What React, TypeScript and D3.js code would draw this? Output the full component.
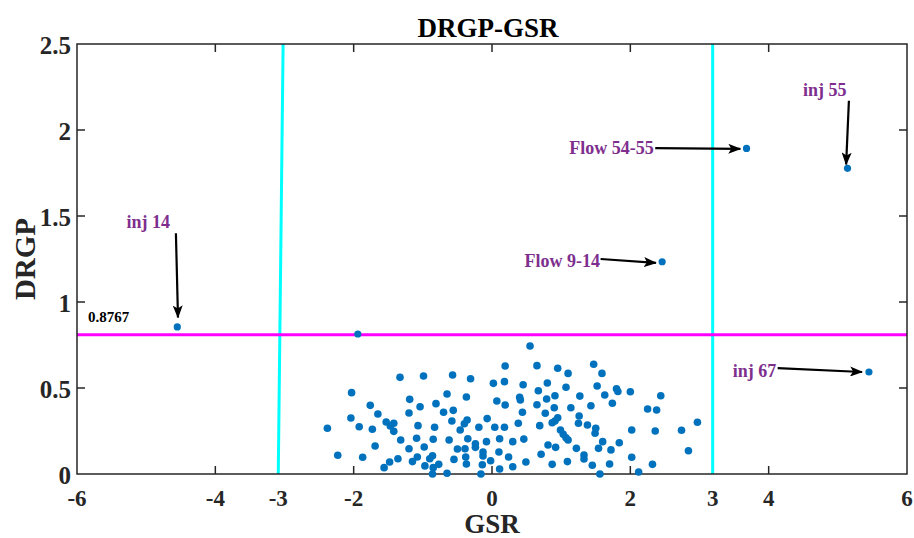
import React, { useRef, useEffect } from "react";
import * as d3 from "d3";

// GSR / DRGP cloud
const gsr = [
	-2.38, -2.23, -2.03, -2.04, -1.92, -1.87, -1.76, -1.73, -1.69, -1.65,
	-1.33, -0.99, -1.19, -0.81, -1.04, -1.20, -0.70, -1.53, -1.42, -1.47,
	-1.07, -0.83, -1.42, -1.32, -1.09, -0.85, -1.20, -0.98, -1.08, -1.36,
	-1.15, -1.48, -0.90, -0.86, -1.56, -0.97, -0.77, -0.85, -0.86,
	0.19, -0.57, -0.31, 0.02, 0.18, -0.65, -0.37, 0.07, 0.19, -0.56,
	-0.58, -0.36, -0.40, -0.46, -0.07, -0.19, 0.04, 0.18, -0.35, -0.62,
	-0.08, 0.11, -0.24, -0.50, -0.39, -0.24, -0.13, 0.10, -0.38, -0.55,
	-0.13, -0.02, 0.24, -0.37, -0.14, 0.11, -0.65, -0.16,
	0.55, 0.65, 0.95, 1.10, 0.45, 0.80, 1.07, 0.67, 0.91, 0.40,
	0.41, 0.79, 0.65, 0.90, 1.14, 0.44, 0.77, 0.95, 0.91, 0.87,
	0.38, 0.69, 0.99, 1.03, 1.07, 1.10, 0.46, 0.30, 0.81, 0.92,
	0.71, 0.49, 0.87, 1.09, 0.30,
	1.47, 1.59, 1.52, 1.80, 1.82, 2.00, 1.27, 1.63, 1.74, 1.43,
	1.26, 1.25, 1.38, 1.50, 1.49, 2.02, 1.60, 1.84, 1.22, 1.54,
	1.72, 1.33, 1.33, 2.02, 1.45, 1.70, 1.56, 2.12,
	2.44, 2.25, 2.38, 2.36, 2.74, 2.97, 2.84, 2.32,
];
const drgp = [
	0.266, 0.109, 0.473, 0.326, 0.275, 0.097, 0.399, 0.260, 0.163, 0.349,
	0.562, 0.570, 0.434, 0.409, 0.391, 0.355, 0.359, 0.302, 0.295, 0.279,
	0.281, 0.272, 0.248, 0.198, 0.208, 0.202, 0.147, 0.157, 0.099, 0.089,
	0.072, 0.070, 0.089, 0.106, 0.037, 0.047, 0.056, 0.037, 0.0,
	0.628, 0.576, 0.554, 0.527, 0.537, 0.465, 0.448, 0.424, 0.401, 0.370,
	0.308, 0.314, 0.292, 0.256, 0.322, 0.272, 0.272, 0.272, 0.205, 0.198,
	0.188, 0.205, 0.176, 0.145, 0.147, 0.155, 0.128, 0.128, 0.099, 0.085,
	0.105, 0.077, 0.099, 0.058, 0.054, 0.029, 0.004, 0.0,
	0.744, 0.630, 0.615, 0.585, 0.519, 0.529, 0.504, 0.484, 0.455, 0.446,
	0.430, 0.436, 0.403, 0.385, 0.385, 0.359, 0.353, 0.327, 0.308, 0.298,
	0.295, 0.281, 0.256, 0.231, 0.211, 0.198, 0.203, 0.188, 0.169, 0.155,
	0.115, 0.070, 0.056, 0.072, 0.042,
	0.638, 0.585, 0.512, 0.496, 0.480, 0.478, 0.453, 0.459, 0.411, 0.397,
	0.337, 0.295, 0.285, 0.266, 0.237, 0.256, 0.188, 0.182, 0.149, 0.149,
	0.140, 0.110, 0.087, 0.097, 0.051, 0.058, 0.0, 0.012,
	0.455, 0.378, 0.372, 0.250, 0.254, 0.301, 0.135, 0.056,
];

// isolated points
const outlierGsr = [-4.55, -1.94, 3.68, 5.14, 2.46, 5.45];
const outlierDrgp = [0.855, 0.814, 1.893, 1.777, 1.234, 0.593];

const xTicks = [-6, -4, -2, 0, 2, 4, 6];
const yTicks = [0, 0.5, 1, 1.5, 2, 2.5];
const drgpLimit = 0.81;
const gsrLimits = [
	{ label: "-3", bottom: -3.09, top: -3.02 },
	{ label: "3", bottom: 3.19, top: 3.19 },
];

const notes = [
	{ text: "inj 14", x: -4.97, y: 1.43, anchor: "middle", from: [-4.57, 1.40], to: [-4.54, 0.91] },
	{ text: "Flow 54-55", x: 2.34, y: 1.86, anchor: "end", from: [2.36, 1.895], to: [3.59, 1.89] },
	{ text: "inj 55", x: 4.81, y: 2.20, anchor: "middle", from: [5.16, 2.17], to: [5.12, 1.80] },
	{ text: "Flow 9-14", x: 1.56, y: 1.203, anchor: "end", from: [1.57, 1.25], to: [2.37, 1.227] },
	{ text: "inj 67", x: 4.11, y: 0.564, anchor: "end", from: [4.13, 0.616], to: [5.35, 0.593] },
];

const FONT = "'Liberation Serif', 'Times New Roman', serif";

const App = () => {
	const chartRef = useRef<SVGSVGElement>(null);

	useEffect(() => {
		document.body.style.margin = "0";
		const width = 914;
		const height = 538;
		const margin = { top: 44, right: 7, bottom: 64, left: 77 };

		const svg = d3.select(chartRef.current);
		svg.selectAll("*").remove();
		svg.attr("width", width).attr("height", height);

		const x = d3.scaleLinear().domain([-6, 6]).range([margin.left, width - margin.right]);
		const y = d3.scaleLinear().domain([0, 2.5]).range([height - margin.bottom, margin.top]);
		const x0 = x.range()[0], x1 = x.range()[1];
		const y0 = y.range()[0], y1 = y.range()[1];

		svg.append("defs").append("marker")
			.attr("id", "head")
			.attr("markerUnits", "userSpaceOnUse")
			.attr("markerWidth", 13)
			.attr("markerHeight", 10)
			.attr("refX", 12)
			.attr("refY", 5)
			.attr("orient", "auto")
			.append("path")
			.attr("d", "M0,0 L13,5 L0,10 L3,5 Z")
			.attr("fill", "#000");

		// cyan GSR limits
		svg.selectAll(".limit")
			.data(gsrLimits)
			.enter()
			.append("line")
			.attr("x1", d => x(d.bottom))
			.attr("y1", y0)
			.attr("x2", d => x(d.top))
			.attr("y2", y1)
			.attr("stroke", "#00ffff")
			.attr("stroke-width", 3);

		// magenta DRGP limit
		svg.append("line")
			.attr("x1", x0)
			.attr("x2", x1)
			.attr("y1", y(drgpLimit))
			.attr("y2", y(drgpLimit))
			.attr("stroke", "#ff00ff")
			.attr("stroke-width", 3);

		// box + inward ticks
		const axisColor = "#262626";
		svg.append("rect")
			.attr("x", x0).attr("y", y1)
			.attr("width", x1 - x0).attr("height", y0 - y1)
			.attr("fill", "none")
			.attr("stroke", axisColor)
			.attr("stroke-width", 1.5);

		const tickLen = 8;
		const innerX = xTicks.slice(1, -1);
		const innerY = yTicks.slice(1, -1);
		svg.selectAll(".xtb").data(innerX).enter().append("line")
			.attr("x1", d => x(d)).attr("x2", d => x(d))
			.attr("y1", y0).attr("y2", y0 - tickLen)
			.attr("stroke", axisColor).attr("stroke-width", 1.5);
		svg.selectAll(".xtt").data(innerX).enter().append("line")
			.attr("x1", d => x(d)).attr("x2", d => x(d))
			.attr("y1", y1).attr("y2", y1 + tickLen)
			.attr("stroke", axisColor).attr("stroke-width", 1.5);
		svg.selectAll(".ytl").data(innerY).enter().append("line")
			.attr("x1", x0).attr("x2", x0 + tickLen)
			.attr("y1", d => y(d)).attr("y2", d => y(d))
			.attr("stroke", axisColor).attr("stroke-width", 1.5);
		svg.selectAll(".ytr").data(innerY).enter().append("line")
			.attr("x1", x1).attr("x2", x1 - tickLen)
			.attr("y1", d => y(d)).attr("y2", d => y(d))
			.attr("stroke", axisColor).attr("stroke-width", 1.5);

		// tick labels
		const xLabels = xTicks.map(v => ({ v, label: String(v) }))
			.concat(gsrLimits.map(d => ({ v: d.bottom, label: d.label })));
		svg.append("g")
			.selectAll("text")
			.data(xLabels)
			.enter()
			.append("text")
			.attr("x", d => x(d.v))
			.attr("y", y0 + 32)
			.attr("text-anchor", "middle")
			.attr("font-family", FONT)
			.attr("font-weight", "bold")
			.attr("font-size", 23)
			.attr("fill", axisColor)
			.text(d => d.label);

		svg.append("g")
			.selectAll("text")
			.data(yTicks)
			.enter()
			.append("text")
			.attr("x", x0 - 6)
			.attr("y", d => y(d) + 10)
			.attr("text-anchor", "end")
			.attr("font-family", FONT)
			.attr("font-weight", "bold")
			.attr("font-size", 25)
			.attr("fill", axisColor)
			.text(d => String(d));

		// titles
		svg.append("text")
			.attr("x", (x0 + x1) / 2 - 4)
			.attr("y", 37)
			.attr("text-anchor", "middle")
			.attr("font-family", FONT)
			.attr("font-weight", "bold")
			.attr("font-size", 27)
			.attr("fill", "#000")
			.text("DRGP-GSR");

		svg.append("text")
			.attr("x", (x0 + x1) / 2)
			.attr("y", 533)
			.attr("text-anchor", "middle")
			.attr("font-family", FONT)
			.attr("font-weight", "bold")
			.attr("font-size", 27)
			.attr("fill", axisColor)
			.text("GSR");

		svg.append("text")
			.attr("transform", `translate(35, ${(y0 + y1) / 2}) rotate(-90)`)
			.attr("text-anchor", "middle")
			.attr("font-family", FONT)
			.attr("font-weight", "bold")
			.attr("font-size", 29)
			.attr("fill", axisColor)
			.text("DRGP");

		// points
		svg.append("g")
			.selectAll("circle")
			.data(d3.range(gsr.length))
			.enter()
			.append("circle")
			.attr("cx", i => x(gsr[i]))
			.attr("cy", i => y(drgp[i]))
			.attr("r", 3.8)
			.attr("fill", "#0072bd");

		svg.append("g")
			.selectAll("circle")
			.data(d3.range(outlierGsr.length))
			.enter()
			.append("circle")
			.attr("cx", i => x(outlierGsr[i]))
			.attr("cy", i => y(outlierDrgp[i]))
			.attr("r", 3.6)
			.attr("fill", "#0072bd");

		// annotations
		svg.append("g")
			.selectAll("line")
			.data(notes)
			.enter()
			.append("line")
			.attr("x1", d => x(d.from[0]))
			.attr("y1", d => y(d.from[1]))
			.attr("x2", d => x(d.to[0]))
			.attr("y2", d => y(d.to[1]))
			.attr("stroke", "#000")
			.attr("stroke-width", 2.2)
			.attr("marker-end", "url(#head)");

		svg.append("g")
			.selectAll("text")
			.data(notes)
			.enter()
			.append("text")
			.attr("x", d => x(d.x))
			.attr("y", d => y(d.y))
			.attr("text-anchor", d => d.anchor)
			.attr("font-family", FONT)
			.attr("font-weight", "bold")
			.attr("font-size", 18)
			.attr("fill", "#7e2f8e")
			.text(d => d.text);

		svg.append("text")
			.attr("x", x(-5.84))
			.attr("y", y(0.884))
			.attr("font-family", FONT)
			.attr("font-weight", "bold")
			.attr("font-size", 15)
			.attr("fill", "#000")
			.text("0.8767");
	}, []);

	return <svg ref={chartRef} style={{ display: "block" }}></svg>;
};

export default App;
